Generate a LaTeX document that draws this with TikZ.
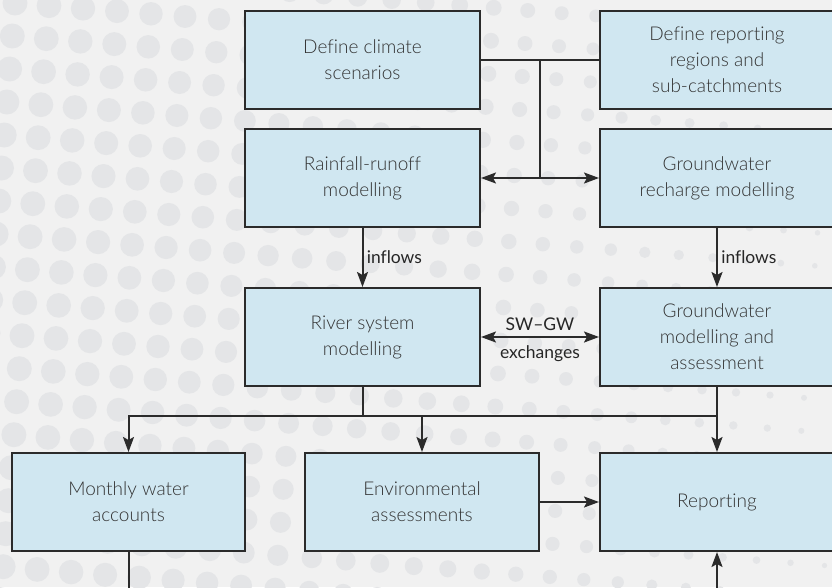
\documentclass[tikz,border=0pt]{standalone}
\usepackage{fontspec}
\setmainfont{Lato}[Ligatures=NoCommon]
\newfontfamily\lightfont{Lato Light}[Ligatures=NoCommon]
\usetikzlibrary{arrows.meta}
\definecolor{bgc}{HTML}{F1F1F1}
\definecolor{dotc}{HTML}{E4E5E7}
\definecolor{boxfill}{HTML}{D0E7F1}
\definecolor{boxline}{HTML}{2B2B2B}
\definecolor{txt}{HTML}{333333}
\definecolor{lbltxt}{HTML}{262626}
\begin{document}
\begin{tikzpicture}[x=1pt,y=-1pt,
  box/.style={draw=boxline, line width=2pt, fill=boxfill, minimum width=235pt,
    minimum height=98pt, align=center, text=txt, inner sep=0pt,
    font=\lightfont\fontsize{19}{26}\selectfont},
  conn/.style={line width=2pt, draw=boxline},
  arr/.style={conn, -{Stealth[length=15pt,width=11pt,inset=3pt]}},
  darr/.style={conn, {Stealth[length=15pt,width=11pt,inset=3pt]}-{Stealth[length=15pt,width=11pt,inset=3pt]}},
  lbl/.style={font=\fontsize{17.5}{20}\selectfont, text=lbltxt}]
\useasboundingbox (0,0) rectangle (832,587);
\clip (0,0) rectangle (832,587);
\fill[bgc] (0,0) rectangle (832,587);
% halftone dot background
\foreach \i in {-1,...,26}{
  \foreach \j in {-1,...,19}{
    \pgfmathsetmacro\cx{15+34*\i-2.7*\j}
    \pgfmathsetmacro\cy{3+2.7*\i+33*\j}
    \pgfmathsetmacro\rr{max(0.01,12.5-10*pow(max(\cx,0)/832,1.5))}
    \fill[dotc] (\cx,\cy) circle[radius=\rr];
  }
}
% boxes
\node[box] (clim) at (362.5,59.5) {Define climate\\scenarios};
\node[box, minimum width=234pt] (regs) at (717,59.5) {Define reporting\\regions and\\sub-catchments};
\node[box] (rain) at (362.5,178) {Rainfall-runoff\\modelling};
\node[box, minimum width=234pt] (rech) at (717,178) {Groundwater\\recharge modelling};
\node[box] (river) at (362.5,337) {River system\\modelling};
\node[box, minimum width=234pt] (gwm) at (717,337) {Groundwater\\modelling and\\assessment};
\node[box, minimum width=233pt] (month) at (128.5,502) {Monthly water\\accounts};
\node[box, minimum width=234pt] (env) at (422,502) {Environmental\\assessments};
\node[box, minimum width=234pt] (rpt) at (717,502) {Reporting};
% connectors
\draw[conn] (clim.east) -- coordinate (j1) (regs.west);
\draw[conn] (j1) -- (j1 |- rain.east);
\draw[darr] (rain.east) -- (rech.west);
\draw[arr] (rain.south) -- node[lbl, right] {inflows} (river.north);
\draw[arr] (rech.south) -- node[lbl, right] {inflows} (gwm.north);
\draw[darr] (river.east) -- node[lbl, above, yshift=2pt] {SW–GW} node[lbl, below, yshift=-4pt] {exchanges} (gwm.west);
\coordinate (bus) at (0,416);
\draw[conn] (river.south) -- (river.south |- bus);
\draw[arr] (gwm.south |- bus) -| (month.north);
\draw[arr] (env.north |- bus) -- (env.north);
\draw[arr] (gwm.south) -- (rpt.north);
\draw[arr] (env.east) -- (rpt.west);
\coordinate (bot) at (0,600);
\draw[conn] (month.south) -- (month.south |- bot);
\draw[arr] (rpt.south |- bot) -- (rpt.south);
\end{tikzpicture}
\end{document}
